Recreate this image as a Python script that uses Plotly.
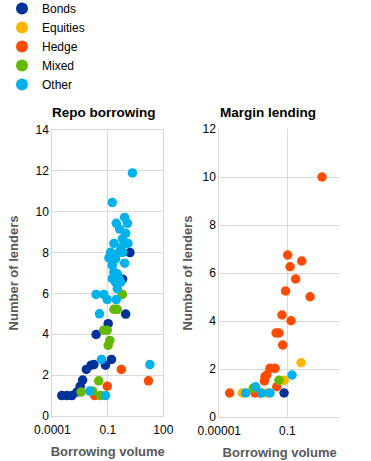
import plotly.graph_objects as go

# ---------------- data ----------------
series_names = ["Bonds", "Equities", "Hedge", "Mixed", "Other"]
series_colors = ["#003299", "#FFB400", "#FF4B00", "#65B800", "#00B1EA"]

# Repo borrowing panel
repo_bonds_x = [0.000324, 0.000617, 0.00115, 0.00214, 0.00324, 0.00437, 0.00692, 0.0126, 0.0178,
                0.075, 0.158, 0.0234, 0.105, 0.925, 0.63, 1.58]
repo_bonds_y = [1.0, 1.0, 1.0, 1.17, 1.46, 1.76, 2.28, 2.49, 2.52,
                2.49, 2.77, 3.99, 4.52, 4.99, 6.7, 8.0]
repo_equities_x = []
repo_equities_y = []
repo_hedge_x = [0.0195, 0.093, 0.537, 15.8]
repo_hedge_y = [1.0, 1.46, 2.28, 1.72]
repo_mixed_x = [0.00355, 0.0151, 0.0398, 0.0324, 0.105, 0.129, 0.0603, 0.0933, 0.214, 0.324, 0.611]
repo_mixed_y = [1.17, 1.22, 1.0, 1.72, 3.46, 3.7, 4.2, 4.2, 5.22, 5.22, 5.95]
repo_other_x = [0.0105, 0.075, 0.0457, 18.8, 0.0355, 0.0233, 0.0605, 0.0933, 0.288,
                2.14, 0.174, 0.813, 0.288, 1.15, 0.437, 0.933, 0.617, 0.214, 1.23, 0.537,
                0.141, 0.398, 0.631, 0.115, 0.263, 0.813, 0.174, 0.214, 0.324, 0.174, 0.398,
                0.263, 0.49, 0.324]
repo_other_y = [1.22, 1.0, 2.77, 2.52, 5.0, 5.95, 5.95, 5.7, 5.7,
                11.9, 10.45, 9.72, 9.43, 9.43, 9.15, 8.94, 8.67, 8.45, 8.45, 8.24,
                8.01, 8.01, 8.01, 7.74, 7.69, 7.48, 7.37, 7.04, 6.96, 6.72, 6.72,
                6.55, 6.55, 6.23]

# Margin lending panel
margin_bonds_x = [0.0646]
margin_bonds_y = [1.0]
margin_equities_x = [0.646, 0.066, 0.000224, 0.00617]
margin_equities_y = [2.26, 1.53, 1.0, 1.0]
margin_hedge_x = [0.105, 0.708, 0.145, 0.309, 0.0794, 2.19, 0.049, 0.166, 0.0219, 0.0324, 0.0537,
                  0.00955, 0.019, 0.00617, 0.0049, 0.00447, 0.024, 0.0000407, 0.00126, 0.00251, 11.0]
margin_hedge_y = [6.75, 6.5, 6.26, 5.75, 5.25, 5.01, 4.25, 4.01, 3.5, 3.5, 3.0,
                  2.03, 2.03, 1.75, 1.68, 1.5, 1.26, 1.0, 1.0, 1.0, 10.0]
margin_mixed_x = [0.0324, 0.001]
margin_mixed_y = [1.53, 1.2]
margin_other_x = [0.19, 0.000355, 0.00138, 0.00309, 0.00955]
margin_other_y = [1.75, 1.0, 1.26, 1.0, 1.0]

repo_x_ticks = [0.0001, 0.1, 100]
repo_x_ticktext = ["0.0001", "0.1", "100"]
margin_x_ticks = [0.00001, 0.1]
margin_x_ticktext = ["0.00001", "0.1"]

repo_series = [(repo_bonds_x, repo_bonds_y), (repo_equities_x, repo_equities_y),
               (repo_hedge_x, repo_hedge_y), (repo_mixed_x, repo_mixed_y),
               (repo_other_x, repo_other_y)]
margin_series = [(margin_bonds_x, margin_bonds_y), (margin_equities_x, margin_equities_y),
                 (margin_hedge_x, margin_hedge_y), (margin_mixed_x, margin_mixed_y),
                 (margin_other_x, margin_other_y)]

# ---------------- figure ----------------
W, H = 371, 461
FONT = "Liberation Sans, Arial, sans-serif"
GRID = "#d9d9d9"
MS = 9.5

fig = go.Figure()
for name, color, (x, y) in zip(series_names, series_colors, repo_series):
    fig.add_trace(go.Scatter(x=x, y=y, mode="markers", name=name, legendgroup=name,
                             showlegend=False,
                             marker=dict(color=color, size=MS, line=dict(width=0)),
                             xaxis="x", yaxis="y"))
for name, color, (x, y) in zip(series_names, series_colors, margin_series):
    fig.add_trace(go.Scatter(x=x, y=y, mode="markers", name=name, legendgroup=name,
                             showlegend=True,
                             marker=dict(color=color, size=MS, line=dict(width=0)),
                             xaxis="x2", yaxis="y2"))

def px_x(p):
    return p / W

def px_y(p):
    return 1 - p / H

tick_font = dict(family=FONT, size=12, color="#000000")
title_font = dict(family=FONT, size=13, color="#595959", weight="bold")

common_x = dict(type="log", showgrid=True, gridcolor=GRID, gridwidth=1, zeroline=False,
                showline=True, linecolor=GRID, linewidth=1, ticks="", tickfont=tick_font,
                tickmode="array", automargin=True, ticklabelstandoff=3,
                title=dict(text="Borrowing volume", font=title_font, standoff=10),
                fixedrange=True)
common_y = dict(showgrid=True, gridcolor=GRID, gridwidth=1, zeroline=False, showline=True,
                linecolor=GRID, linewidth=1, ticks="", tickfont=tick_font, dtick=2, tick0=0,
                automargin=True, fixedrange=True)

fig.update_layout(
    width=W, height=H, autosize=False,
    margin=dict(l=0, r=0, t=0, b=0, autoexpand=False),
    paper_bgcolor="white", plot_bgcolor="white",
    font=dict(family=FONT, size=12, color="#000000"),
    showlegend=True,
    legend=dict(x=px_x(2), y=px_y(-6), xanchor="left", yanchor="top",
                font=dict(family=FONT, size=12, color="#000000"),
                bgcolor="rgba(0,0,0,0)", tracegroupgap=0, itemsizing="constant"),
    xaxis=dict(common_x, domain=[px_x(52.3), px_x(163.3)], range=[-4, 2],
               tickvals=repo_x_ticks, ticktext=repo_x_ticktext, anchor="y", mirror=True),
    yaxis=dict(common_y, domain=[px_y(416), px_y(130)], range=[0, 14], anchor="x", mirror=True,
               title=dict(text="Number of lenders", font=title_font, standoff=13)),
    xaxis2=dict(common_x, domain=[px_x(219.3), px_x(340)], range=[-5, 2.1],
                tickvals=margin_x_ticks, ticktext=margin_x_ticktext, anchor="y2"),
    yaxis2=dict(common_y, domain=[px_y(417), px_y(129)], range=[0, 12], anchor="x2",
                title=dict(text="Number of lenders", font=title_font, standoff=6)),
    annotations=[
        dict(text="<b>Repo borrowing</b>", xref="paper", yref="paper", x=px_x(50), y=px_y(113),
             xanchor="left", yanchor="middle", showarrow=False,
             font=dict(family=FONT, size=13.5, color="#000000")),
        dict(text="<b>Margin lending</b>", xref="paper", yref="paper", x=px_x(218), y=px_y(112),
             xanchor="left", yanchor="middle", showarrow=False,
             font=dict(family=FONT, size=13.5, color="#000000")),
    ],
)

fig.write_html("out.html", config=dict(displayModeBar=False),
               post_script="document.body.style.margin='0';")
